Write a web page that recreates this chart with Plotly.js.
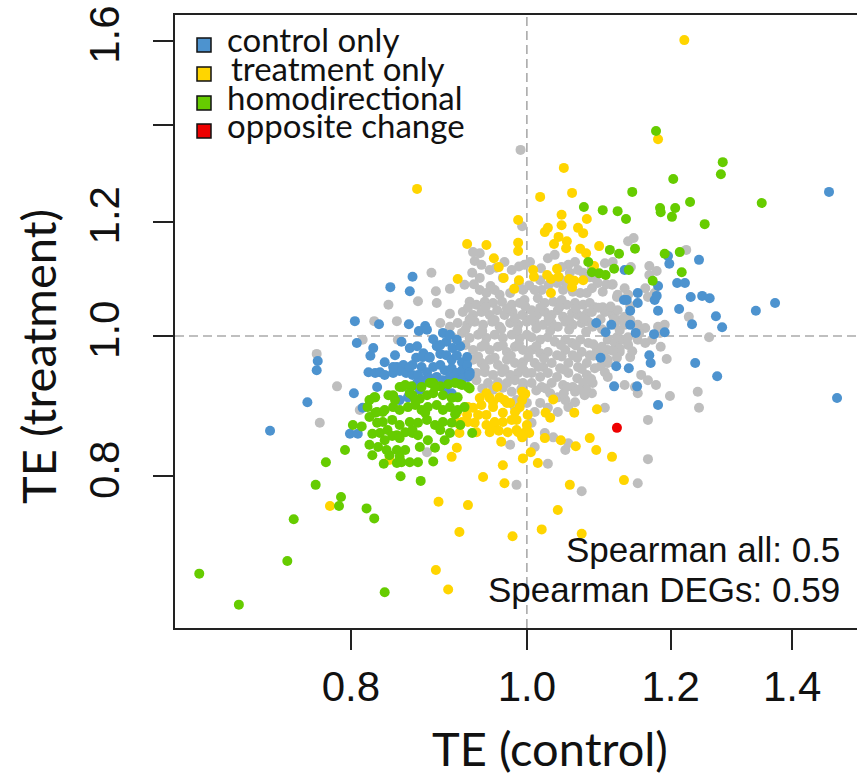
<!DOCTYPE html>
<html>
<head>
<meta charset="utf-8">
<script src="https://cdn.plot.ly/plotly-3.0.1.min.js"></script>
<style>html,body{margin:0;padding:0;background:#fff;}#chart{width:857px;height:778px;}</style>
</head>
<body>
<div id="chart"></div>
<script>
// ---------- data (TE values) ----------
const categories = ["control only", "treatment only", "homodirectional", "opposite change"];
const xTickVals = [0.8, 1.0, 1.2, 1.4];
const xTickText = ["0.8", "1.0", "1.2", "1.4"];
const yTickVals = [0.8, 1.0, 1.2, 1.4, 1.6];
const yTickText = ["0.8", "1.0", "1.2", "", "1.6"];
const statLabels = ["Spearman all: 0.5", "Spearman DEGs: 0.59"];

const grayX = [0.992,0.994,1.137,1.145,1.224,1.168,1.168,1.141,1.114,1.260,1.228,1.242,1.244,1.199,1.178,1.166,1.166,1.151,1.072,1.027,0.987,0.881,0.886,0.934,0.942,0.936,0.944,0.933,0.942,0.970,0.907,0.891,0.871,0.839,0.892,0.824,0.848,0.849,0.812,0.766,0.786,0.769,0.809,0.865,0.979,0.987,1.179,1.151,1.132,1.147,1.191,1.181,1.184,1.185,1.194,1.156,1.162,1.166,1.176,1.132,1.122,1.137,1.115,1.101,1.104,1.115,1.063,1.054,1.056,1.067,1.074,1.045,1.083,1.090,1.019,1.014,1.039,1.047,1.060,1.070,1.079,1.086,1.023,1.034,1.045,1.052,1.063,1.074,1.083,1.090,1.101,1.006,1.013,1.023,1.032,1.040,1.047,1.059,1.067,1.079,1.086,1.104,1.115,1.122,1.132,1.010,1.021,1.032,1.040,1.050,1.060,1.072,1.081,1.087,1.118,1.132,1.151,1.162,1.006,1.017,1.027,1.036,1.050,1.059,1.070,1.081,1.108,1.118,1.128,1.137,1.151,1.162,1.172,1.006,1.017,1.027,1.039,1.050,1.060,1.072,1.083,1.093,1.108,1.125,1.010,1.021,1.032,1.043,1.054,1.067,1.079,1.090,1.108,1.121,1.006,1.017,1.027,1.039,1.054,1.066,1.079,1.104,1.108,1.006,1.019,1.032,1.047,1.060,1.074,1.087,1.030,1.040,1.063,1.076,1.086,1.010,1.040,1.054,1.104,1.006,1.023,1.017,1.027,1.050,1.063,1.010,1.050,1.054,1.034,1.085,1.078,1.048,1.121,1.125,1.115,1.140,1.108,1.153,1.117,1.108,1.122,1.140,1.121,1.137,0.942,0.950,0.960,0.966,0.979,0.995,0.930,0.938,0.948,0.958,0.969,0.981,0.991,0.922,0.934,0.944,0.954,0.963,0.972,0.982,0.994,0.907,0.896,0.907,0.916,0.927,0.936,0.946,0.957,0.966,0.979,0.989,1.000,0.910,0.921,0.930,0.940,0.950,0.960,0.970,0.981,0.991,1.000,0.934,0.944,0.954,0.964,0.975,0.985,0.995,0.934,0.944,0.954,0.964,0.975,0.985,0.995,0.938,0.948,0.958,0.969,0.979,0.989,1.000,0.938,0.952,0.964,0.975,0.985,0.995,0.981,0.987,1.000,0.985,1.004,1.017,1.027,0.997,1.010,1.036,0.972,0.954,0.981,0.997,0.924,1.166,
  0.925,0.945,0.968,0.988,1.012,1.030,1.055,1.078,1.100,1.125,
  0.940,0.960,0.980,1.002,1.022,1.045,1.066,1.088,1.102,
  0.945,0.958,0.970,0.993,1.012,1.024,1.052,1.068,
  0.928,0.949,0.975,0.998,1.017,1.042,1.064,1.095,1.112,
  0.935,0.955,0.990,1.003,1.028,1.052,1.094,1.106,
  0.962,0.990,1.018,1.045,1.086,
  0.925,0.948,0.970,0.990,1.012,1.044,1.064,1.088,1.100,1.143,
  0.948,0.972,0.994,1.015,1.048,1.072,1.098,
  0.930,0.960,0.985,1.005,1.028,1.055,1.075,1.098,1.140];
const grayY = [1.345,1.191,1.163,1.169,1.147,1.118,1.102,1.116,1.085,0.998,1.031,0.915,0.892,0.909,0.925,0.875,0.822,0.791,0.781,0.816,0.789,0.831,1.106,1.143,1.141,1.127,1.120,1.106,1.097,1.097,1.078,1.074,1.057,1.051,1.054,1.024,1.024,0.994,0.994,0.972,0.923,0.871,0.889,0.868,0.841,0.889,1.109,0.913,0.925,0.922,1.018,1.015,1.005,0.983,0.964,0.940,1.079,1.064,1.071,1.079,1.068,1.068,1.086,1.073,1.123,1.125,1.125,1.120,1.106,1.111,1.106,1.093,1.098,1.097,1.076,1.062,1.088,1.076,1.073,1.071,1.071,1.079,1.054,1.056,1.059,1.051,1.054,1.051,1.054,1.047,1.047,1.042,1.034,1.039,1.034,1.042,1.031,1.037,1.034,1.037,1.039,1.039,1.034,1.026,1.031,1.023,1.018,1.021,1.015,1.023,1.018,1.021,1.023,1.015,1.018,1.018,1.018,1.013,0.998,0.994,0.998,0.991,0.994,0.989,0.994,0.989,0.994,0.989,0.994,0.986,0.994,0.989,0.994,0.978,0.973,0.975,0.970,0.978,0.970,0.975,0.970,0.978,0.978,0.975,0.958,0.952,0.958,0.950,0.958,0.952,0.958,0.950,0.963,0.966,0.943,0.937,0.943,0.937,0.943,0.935,0.940,0.944,0.937,0.928,0.922,0.928,0.925,0.922,0.928,0.928,0.913,0.907,0.915,0.910,0.913,0.886,0.886,0.893,0.892,0.871,0.857,0.899,0.892,0.903,0.900,0.838,0.834,0.843,0.851,0.934,0.919,0.913,0.998,0.980,0.977,0.967,0.958,1.005,1.027,1.044,1.042,1.049,1.064,0.998,1.076,1.071,1.076,1.068,1.071,1.076,1.056,1.051,1.056,1.054,1.056,1.051,1.054,1.039,1.034,1.039,1.034,1.042,1.034,1.039,1.034,1.036,1.021,1.015,1.021,1.018,1.023,1.018,1.023,1.015,1.021,1.018,1.023,0.998,1.005,0.997,1.002,0.997,1.002,0.997,1.002,0.997,1.002,0.978,0.983,0.978,0.983,0.975,0.983,0.978,0.963,0.958,0.963,0.955,0.963,0.958,0.959,0.943,0.944,0.940,0.944,0.940,0.943,0.943,0.932,0.928,0.929,0.928,0.932,0.928,0.915,0.903,0.899,0.892,1.125,1.093,1.132,1.059,1.076,1.138,1.125,1.111,1.111,1.120,1.085,0.932,
  1.010,1.008,1.011,1.009,1.012,1.008,1.010,1.007,1.011,1.009,
  0.968,0.966,0.969,0.967,0.965,0.968,0.966,0.969,0.970,
  0.920,0.918,0.921,0.919,0.917,0.920,0.922,0.918,
  1.046,1.047,1.045,1.048,1.046,1.047,1.045,1.046,1.048,
  1.086,1.083,1.087,1.084,1.085,1.083,1.088,1.086,
  1.115,1.117,1.114,1.116,1.114,
  0.986,0.987,0.985,0.988,0.984,0.986,0.985,0.987,0.983,0.976,
  0.951,0.949,0.951,0.952,0.948,0.949,0.953,
  1.027,1.026,1.029,1.027,1.028,1.026,1.028,1.027,1.026];

const blueX = [1.467,1.482,1.244,1.196,1.198,1.210,1.222,1.181,1.151,1.176,1.179,1.131,1.135,1.151,1.140,1.181,1.213,1.231,1.249,1.261,1.233,1.271,1.281,1.370,1.337,1.092,1.105,1.113,1.140,1.148,1.175,1.191,1.098,1.120,1.138,1.168,1.170,1.238,1.273,1.117,1.150,1.181,1.132,0.722,0.757,0.766,0.767,0.804,0.806,0.841,0.862,0.865,0.829,0.823,0.820,0.803,0.812,0.799,0.807,0.861,0.827,0.879,0.872,0.899,0.853,0.862,0.870,0.888,0.892,0.903,0.910,0.919,0.877,0.884,0.896,0.903,0.909,0.915,0.921,0.927,0.869,0.865,0.855,0.848,0.875,0.881,0.888,0.896,0.901,0.909,0.915,0.921,0.927,0.930,0.928,0.818,0.825,0.830,0.835,0.844,0.851,0.858,0.865,0.871,0.876,0.884,0.892,0.899,0.907,0.915,0.922,0.930,0.870,0.873,0.862,0.860,0.851,0.903,0.909,0.881,0.915,0.862,0.876,0.884,0.844,0.896,0.907,0.846,0.835];
const blueY = [1.258,0.906,1.129,1.136,1.122,1.088,1.088,1.083,1.071,1.059,1.066,1.059,1.059,1.054,1.041,1.041,1.044,1.064,1.066,1.062,1.019,1.032,1.014,1.054,1.041,1.021,1.006,1.018,1.018,1.005,1.003,1.006,0.966,0.953,0.950,0.970,0.958,0.958,0.938,0.923,0.923,0.896,1.111,0.860,0.900,0.947,0.961,1.024,0.989,1.081,1.074,1.099,1.019,0.981,0.969,0.913,0.892,0.856,0.856,1.019,0.922,1.016,1.008,1.005,0.991,0.981,0.984,0.995,0.984,0.991,0.981,0.984,0.973,0.966,0.972,0.970,0.963,0.970,0.959,0.967,0.966,0.955,0.955,0.952,0.952,0.944,0.952,0.955,0.947,0.950,0.943,0.947,0.955,0.944,0.937,0.944,0.943,0.944,0.940,0.943,0.946,0.943,0.940,0.940,0.932,0.935,0.937,0.932,0.937,0.932,0.935,0.940,0.928,0.918,0.913,0.907,0.903,0.915,0.913,1.010,0.994,0.952,0.967,0.967,0.952,0.986,1.002,0.970,0.959];

const yellowX = [1.221,0.870,1.181,1.048,1.059,1.017,0.989,1.045,1.045,1.027,1.023,1.067,1.074,1.079,1.041,1.052,1.035,1.051,1.070,1.078,1.096,0.927,0.950,0.989,0.989,0.959,0.965,0.916,0.971,0.990,0.984,1.008,1.026,1.031,1.039,1.041,1.055,1.059,1.074,1.089,1.031,1.009,1.062,1.034,1.024,1.030,1.062,1.093,1.001,0.998,1.003,1.023,1.044,1.083,1.064,1.092,1.005,1.014,1.114,1.131,1.056,1.040,1.019,1.072,0.934,0.944,0.958,0.975,0.994,0.950,0.970,0.985,0.936,0.950,0.960,0.970,0.987,0.918,0.928,0.954,0.965,0.989,1.000,0.968,0.994,0.915,0.909,0.840,0.970,0.995,0.946,0.972,0.894,0.928,0.918,0.982,0.891,0.905,0.779,0.915,0.963,0.950,0.942,0.954,0.966,0.979,0.972,0.994,0.958,0.940,0.960,0.987,1.000,0.995,0.981,0.991,0.915,0.921,0.927,0.928,0.938,0.976];
const yellowY = [1.602,1.264,1.368,1.307,1.256,1.248,1.203,1.213,1.193,1.188,1.180,1.188,1.178,1.205,1.171,1.163,1.158,1.150,1.149,1.141,1.154,1.158,1.156,1.160,1.145,1.132,1.116,1.095,1.097,1.093,1.078,1.111,1.102,1.095,1.113,1.099,1.095,1.081,1.093,1.118,1.071,1.099,1.092,0.904,0.885,0.878,0.885,0.890,0.882,0.912,0.857,0.850,0.847,0.850,0.839,0.834,0.831,0.817,0.825,0.795,0.789,0.758,0.735,0.730,0.892,0.896,0.900,0.899,0.903,0.882,0.885,0.886,0.871,0.868,0.865,0.872,0.875,0.857,0.872,0.858,0.860,0.858,0.861,0.845,0.851,0.837,0.825,0.821,0.814,0.823,0.799,0.791,0.768,0.764,0.732,0.727,0.689,0.668,0.763,0.871,0.922,0.913,0.906,0.906,0.907,0.899,0.903,0.915,0.893,0.882,0.872,0.861,0.868,0.854,0.875,0.893,0.885,0.872,0.882,0.893,0.858,0.858];

const greenX = [0.660,0.694,0.738,0.744,0.765,0.775,0.790,0.788,0.816,0.824,0.835,0.794,0.852,0.874,0.834,0.848,0.888,0.871,0.933,1.178,1.204,1.230,1.253,1.282,1.279,1.347,1.143,1.184,1.185,1.207,1.202,1.075,1.101,1.122,1.134,1.111,1.124,1.147,1.081,1.086,1.096,1.105,1.117,1.138,1.191,1.214,1.217,1.173,0.854,0.864,0.888,0.896,0.905,0.919,0.928,0.824,0.839,0.846,0.865,0.873,0.881,0.888,0.899,0.909,0.916,0.924,0.817,0.825,0.833,0.844,0.851,0.860,0.868,0.875,0.882,0.892,0.899,0.907,0.916,0.802,0.811,0.827,0.833,0.843,0.851,0.862,0.871,0.881,0.890,0.899,0.909,0.822,0.830,0.838,0.848,0.857,0.865,0.907,0.819,0.819,0.828,0.843,0.851,0.882,0.865,0.871,0.848,0.857,0.851,0.822,0.837,0.853,0.862,0.819,0.825,0.827,0.835,0.844,0.851,0.857,0.862,0.868,0.875,0.884,0.890,0.913,0.921,0.930,0.835,0.873,0.890,0.901,0.896,0.919,0.879,0.913,0.840];
const greenY = [0.685,0.652,0.699,0.747,0.789,0.818,0.774,0.763,0.760,0.748,0.665,0.834,0.800,0.794,0.816,0.817,0.819,0.818,0.857,1.386,1.284,1.238,1.195,1.319,1.294,1.236,1.258,1.226,1.218,1.226,1.209,1.228,1.222,1.220,1.205,1.147,1.140,1.149,1.125,1.107,1.105,1.102,1.113,1.111,1.140,1.143,1.107,1.092,0.922,0.923,0.928,0.923,0.926,0.926,0.922,0.907,0.910,0.903,0.910,0.905,0.910,0.913,0.910,0.906,0.907,0.893,0.893,0.885,0.886,0.893,0.889,0.893,0.896,0.889,0.893,0.896,0.889,0.893,0.889,0.868,0.866,0.871,0.872,0.875,0.868,0.872,0.871,0.875,0.868,0.872,0.871,0.856,0.857,0.861,0.854,0.858,0.857,0.857,0.879,0.841,0.838,0.853,0.850,0.847,0.861,0.854,0.834,0.834,0.825,0.827,0.834,0.818,0.818,0.903,0.907,0.886,0.889,0.910,0.922,0.925,0.913,0.903,0.922,0.928,0.922,0.928,0.925,0.920,0.847,0.838,0.837,0.847,0.861,0.868,0.885,0.883,0.827];

const redX = [1.121];
const redY = [0.864];

const colors = {gray: "#bebebe", blue: "#4d93cf", yellow: "#ffd500", green: "#66cc00", red: "#ee0000"};

// ---------- geometry (layout only) ----------
const W = 857, H = 778;
const M = {l: 175, r: 0, t: 15, b: 150};
const PW = W - M.l - M.r, PH = H - M.t - M.b;
const xRange = [Math.log10(0.640), Math.log10(1.520)];
const yRange = [Math.log10(0.6282), Math.log10(1.6673)];
const pxX = p => (p - M.l) / PW;          // canvas px -> paper x
const pxY = p => (M.t + PH - p) / PH;     // canvas px -> paper y
const dataPaperX = v => (Math.log10(v) - xRange[0]) / (xRange[1] - xRange[0]);
const dataPaperY = v => (Math.log10(v) - yRange[0]) / (yRange[1] - yRange[0]);

function pts(x, y, c) {
  return {type: "scatter", mode: "markers", x: x, y: y, showlegend: false, hoverinfo: "skip",
          marker: {color: c, size: 10, line: {width: 0}}};
}
const traces = [
  pts(grayX, grayY, colors.gray),
  pts(blueX, blueY, colors.blue),
  pts(yellowX, yellowY, colors.yellow),
  pts(greenX, greenY, colors.green),
  pts(redX, redY, colors.red)
];

const tickFont = {family: "Liberation Sans, Arial, sans-serif", size: 42, color: "#111"};
const axisCommon = {
  type: "log", showgrid: false, zeroline: false, showline: true, mirror: true,
  linecolor: "#222", linewidth: 2, ticks: "outside", ticklen: 20, tickwidth: 2, tickcolor: "#222",
  tickfont: tickFont, tickmode: "array", fixedrange: true
};

const legendColors = [colors.blue, colors.yellow, colors.green, colors.red];
const legendRowsY = [45, 74, 103, 131];
const shapes = [
  {type: "line", xref: "paper", yref: "paper", x0: dataPaperX(1), x1: dataPaperX(1), y0: 0, y1: 1,
   line: {color: "#aaaaaa", width: 1.6, dash: "9px,5px"}, layer: "below"},
  {type: "line", xref: "paper", yref: "paper", x0: 0, x1: 1, y0: dataPaperY(1), y1: dataPaperY(1),
   line: {color: "#aaaaaa", width: 1.6, dash: "9px,5px"}, layer: "below"}
];
const annotations = [];
categories.forEach((name, i) => {
  const cy = legendRowsY[i];
  shapes.push({type: "rect", xref: "paper", yref: "paper",
    x0: pxX(197), x1: pxX(211), y0: pxY(cy + 7), y1: pxY(cy - 7),
    fillcolor: legendColors[i], line: {color: "#111", width: 1.5}});
  annotations.push({xref: "paper", yref: "paper", x: pxX(i === 1 ? 229 : 225), y: pxY(cy - 6),
    xanchor: "left", yanchor: "middle", showarrow: false, text: name,
    font: {family: "Lato, Noto Sans, sans-serif", size: 33, color: "#111"}});
});
statLabels.forEach((t, i) => {
  annotations.push({xref: "paper", yref: "paper", x: pxX(842), y: pxY([549, 589][i]),
    xanchor: "right", yanchor: "middle", showarrow: false, text: t,
    font: {family: "Liberation Sans, Arial, sans-serif", size: 35, color: "#111"}});
});
annotations.push({xref: "paper", yref: "paper", x: pxX(550), y: pxY(748), xanchor: "center", yanchor: "middle",
  showarrow: false, text: "TE (control)", font: {family: "Lato, Noto Sans, sans-serif", size: 47, color: "#111"}});
annotations.push({xref: "paper", yref: "paper", x: pxX(38), y: pxY(357), xanchor: "center", yanchor: "middle",
  showarrow: false, textangle: -90, text: "TE (treatment)", font: {family: "Lato, Noto Sans, sans-serif", size: 47, color: "#111"}});

const layout = {
  width: W, height: H, margin: M, paper_bgcolor: "#fff", plot_bgcolor: "#fff", showlegend: false,
  xaxis: Object.assign({}, axisCommon, {range: xRange, tickvals: xTickVals, ticktext: xTickText, ticklabelstandoff: 1}),
  yaxis: Object.assign({}, axisCommon, {range: yRange, tickvals: yTickVals, ticktext: yTickText, tickangle: -90, ticklabelstandoff: 17}),
  shapes: shapes, annotations: annotations
};
Plotly.newPlot("chart", traces, layout, {displayModeBar: false, staticPlot: true});
</script>
</body>
</html>
